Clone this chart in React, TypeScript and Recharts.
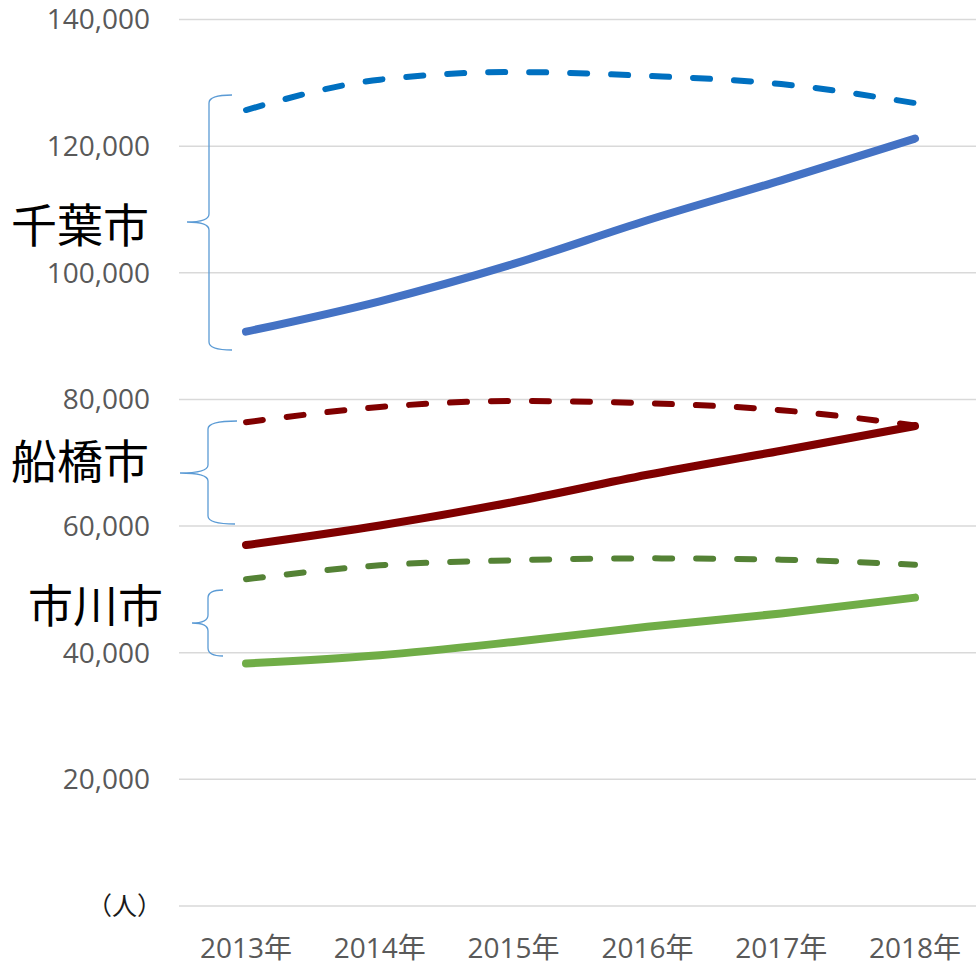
import React from 'react';
import { LineChart, Line, XAxis, YAxis, CartesianGrid } from 'recharts';

const years = ['2013年', '2014年', '2015年', '2016年', '2017年', '2018年'];
const chibaSolid = [90700, 95500, 101400, 108300, 114600, 121200];
const chibaDashed = [125700, 130500, 131700, 131100, 129800, 126800];
const funaSolid = [57000, 60100, 63800, 68100, 71900, 75800];
const funaDashed = [76400, 78800, 79750, 79400, 78300, 75900];
const ichiSolid = [38300, 39600, 41700, 44100, 46200, 48700];
const ichiDashed = [51600, 53800, 54600, 54900, 54700, 53900];
const yTicks = [0, 20000, 40000, 60000, 80000, 100000, 120000, 140000];
const unitLabel = '（人）';
const cityLabels = ['千葉市', '船橋市', '市川市'];

const data = years.map((year, i) => ({
  year,
  chibaSolid: chibaSolid[i],
  chibaDashed: chibaDashed[i],
  funaSolid: funaSolid[i],
  funaDashed: funaDashed[i],
  ichiSolid: ichiSolid[i],
  ichiDashed: ichiDashed[i],
}));

const FONT = "'Open Sans', 'Noto Sans CJK JP', sans-serif";
const CJK = "'Noto Sans CJK JP', sans-serif";

const YTick = (props: any) => {
  const { x, y, payload } = props;
  if (payload.value === 0) {
    return (
      <text x={x + 12} y={y} dy="0.355em" textAnchor="end" fill="#1a1a1a" fontSize={25} fontFamily={CJK}>
        {unitLabel}
      </text>
    );
  }
  return (
    <text x={x} y={y} dy="0.355em" textAnchor="end" fill="#595959" fontSize={28} fontFamily={FONT}>
      {payload.value.toLocaleString('en-US')}
    </text>
  );
};

const brace = (arm: number, top: number, vx: number, tip: number, mid: number, bottom: number, armB: number) =>
  `M${arm},${top} Q${vx},${top} ${vx},${top + 8} L${vx},${mid - 8} Q${vx},${mid} ${tip},${mid} Q${vx},${mid} ${vx},${mid + 8} L${vx},${bottom - 8} Q${vx},${bottom} ${armB},${bottom}`;

const dashProps = { strokeWidth: 6, strokeDasharray: '17 24', strokeLinecap: 'round' as const, dot: false, isAnimationActive: false };
const solidProps = { strokeWidth: 8, strokeLinecap: 'round' as const, dot: false, isAnimationActive: false };

export default function App() {
  return (
    <div style={{ position: 'absolute', left: 0, top: 0, width: 976, height: 966, overflow: 'hidden', background: '#fff' }}>
      <LineChart width={990} height={966} data={data} margin={{ top: 19.5, right: 8, left: 0, bottom: 0 }}>
        <CartesianGrid vertical={false} stroke="#D9D9D9" strokeWidth={1.5} />
        <XAxis
          dataKey="year"
          padding={{ left: 67, right: 67 }}
          axisLine={false}
          tickLine={false}
          tickSize={0}
          tickMargin={32}
          height={60}
          interval={0}
          tick={{ fill: '#595959', fontSize: 28, fontFamily: FONT }}
        />
        <YAxis
          width={179}
          domain={[0, 140000]}
          ticks={yTicks}
          interval={0}
          axisLine={false}
          tickLine={false}
          tickSize={0}
          tickMargin={29}
          tick={<YTick />}
        />
        <Line type="monotone" dataKey="chibaDashed" stroke="#0070C0" {...dashProps} />
        <Line type="monotone" dataKey="funaDashed" stroke="#800000" {...dashProps} />
        <Line type="monotone" dataKey="ichiDashed" stroke="#548235" {...dashProps} />
        <Line type="monotone" dataKey="chibaSolid" stroke="#4472C4" {...solidProps} />
        <Line type="monotone" dataKey="funaSolid" stroke="#7F0000" {...solidProps} />
        <Line type="monotone" dataKey="ichiSolid" stroke="#70AD47" {...solidProps} />
      </LineChart>
      <svg width={976} height={966} style={{ position: 'absolute', left: 0, top: 0, pointerEvents: 'none' }}>
        <path d={brace(232, 95, 209, 187, 222, 350, 232)} fill="none" stroke="#5B9BD5" strokeWidth={1.3} />
        <path d={brace(237, 421, 208, 180, 473, 524, 235)} fill="none" stroke="#5B9BD5" strokeWidth={1.3} />
        <path d={brace(223, 590, 208, 192, 623, 656, 223)} fill="none" stroke="#5B9BD5" strokeWidth={1.3} />
        <text x={11} y={222} dominantBaseline="central" fontSize={46} fontFamily={CJK} fill="#000">{cityLabels[0]}</text>
        <text x={11} y={458} dominantBaseline="central" fontSize={46} fontFamily={CJK} fill="#000">{cityLabels[1]}</text>
        <text x={28} y={603} dominantBaseline="central" fontSize={45} fontFamily={CJK} fill="#000">{cityLabels[2]}</text>
      </svg>
    </div>
  );
}
